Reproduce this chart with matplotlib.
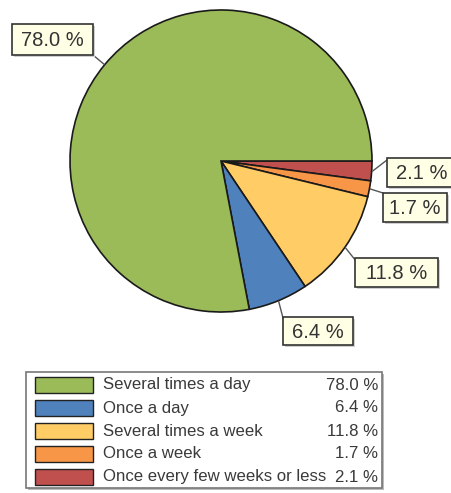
import matplotlib.pyplot as plt
from matplotlib.patches import Rectangle
import numpy as np

plt.rcParams['font.family'] = ['Liberation Sans', 'DejaVu Sans']

# share of respondents, drawn clockwise from 3 o'clock
categories = ['Once every few weeks or less', 'Once a week',
              'Several times a week', 'Once a day', 'Several times a day']
shares = [2.1, 1.7, 11.8, 6.4, 78.0]
colors = ['#C0504D', '#F79646', '#FFCC66', '#4F81BD', '#9BBB59']

# legend rows run in a different order than the slices
legend_order = ['Several times a day', 'Once a day', 'Several times a week',
                'Once a week', 'Once every few weeks or less']

# label boxes (left, top, width, height) and leader end points, in pixels
label_boxes = [(387, 158, 70, 29), (383, 193, 64, 29), (355, 258, 83, 29),
               (283, 317, 70, 28), (12, 24, 81, 31)]
leader_ends = [(387, 160), (383, 193), (356, 261), (283, 318), (93, 55)]

W, H = 451, 493
fig = plt.figure(figsize=(W / 100, H / 100), dpi=100)
ax = fig.add_axes([0, 0, 1, 1])

cx, cy, r = 221, 161, 151
wedges, _ = ax.pie(shares, colors=colors, startangle=0, center=(cx, cy),
                   radius=r, wedgeprops=dict(edgecolor='#1a1a1a', linewidth=1.2))
ax.set_xlim(0, W)
ax.set_ylim(H, 0)
ax.set_aspect('equal')
ax.axis('off')

# percentage labels with leader lines from the slice middles
for w, val, (bx, by, bw, bh), (ex, ey) in zip(wedges, shares, label_boxes, leader_ends):
    mid = np.deg2rad((w.theta1 + w.theta2) / 2)
    px, py = cx + (r + 1) * np.cos(mid), cy + (r + 1) * np.sin(mid)
    ax.plot([px, ex], [py, ey], color='#555555', lw=1.0, zorder=3)
    ax.add_patch(Rectangle((bx + 2, by + 2), bw, bh, facecolor='#cfcfcf',
                           edgecolor='none', zorder=4))
    ax.add_patch(Rectangle((bx, by), bw, bh, facecolor='#FFFFE6',
                           edgecolor='#333333', lw=1.2, zorder=5))
    ax.text(bx + bw / 2, by + bh / 2 + 1, f'{val:.1f} %', ha='center', va='center',
            fontsize=14.5, color='#333333', zorder=6)

# legend box
ax.add_patch(Rectangle((28, 374), 356, 116, facecolor='#bbbbbb',
                       edgecolor='none', zorder=2))
ax.add_patch(Rectangle((26, 372), 356, 116, facecolor='white',
                       edgecolor='#777777', lw=1.2, zorder=3))
for i, name in enumerate(legend_order):
    k = categories.index(name)
    top = 377 + 23 * i
    ax.add_patch(Rectangle((35, top), 58, 16, facecolor=colors[k],
                           edgecolor='#222222', lw=1.0, zorder=4))
    ax.text(103, top + 8, name, ha='left', va='center', fontsize=12.1,
            color='#3a3a3a', zorder=5)
    ax.text(378, top + 8, f'{shares[k]:.1f} %', ha='right', va='center',
            fontsize=12.1, color='#3a3a3a', zorder=5)

fig.savefig('out.png', dpi=100)
